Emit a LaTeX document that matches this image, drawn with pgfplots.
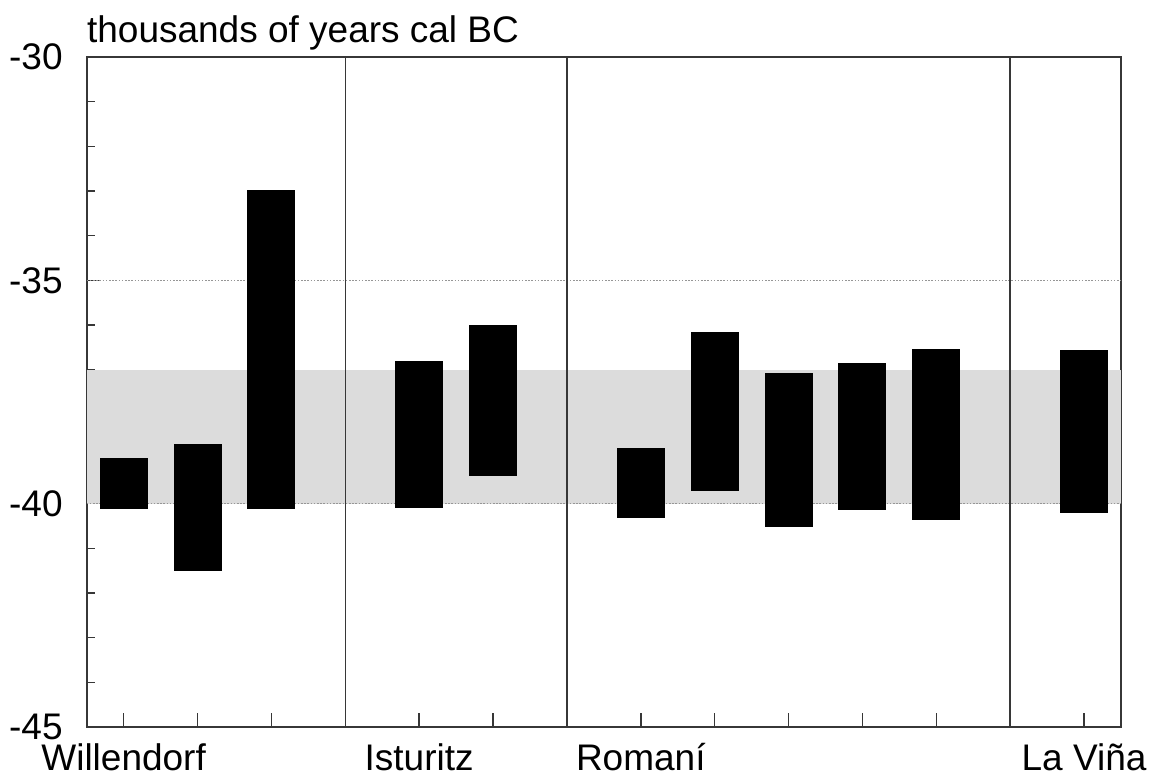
\documentclass[border=0pt]{standalone}
\usepackage{fontspec}
\setmainfont{Liberation Sans}
\usepackage{pgfplots}
\pgfplotsset{compat=1.18}

\definecolor{band}{RGB}{220,220,220}
\definecolor{frame}{RGB}{55,55,55}
\definecolor{dots}{RGB}{150,150,150}

\begin{document}
\begin{tikzpicture}
\begin{axis}[
  scale only axis,
  width=517.2pt, height=335pt,
  xmin=0.5, xmax=14.5,
  ymin=-45, ymax=-30,
  axis line style={frame, line width=1pt},
  xtick={1,2,3,5,6,8,9,10,11,12,14},
  xticklabels={Willendorf,,,Isturitz,,Romaní,,,,,La Viña},
  ytick={-45,-40,-35,-30},
  yticklabels={-45,-40,-35,-30},
  minor ytick={-44,-43,-42,-41,-39,-38,-37,-36,-34,-33,-32,-31},
  tick align=inside,
  xtick pos=bottom, ytick pos=left,
  major tick length=7pt, minor tick length=4pt,
  tick style={frame, line width=0.75pt},
  tick label style={font=\fontsize{18.5}{22}\selectfont},
  yticklabel style={xshift=-8.5pt},
  xticklabel style={text height=13.5pt, text depth=0pt, yshift=-4.8pt},
  clip=false,
]
% shaded band
\addplot[fill=band, draw=none] coordinates {(0.5,-37) (14.5,-37) (14.5,-40) (0.5,-40)} -- cycle;
% dotted reference lines
\addplot[dots, line width=0.6pt, dash pattern=on 0.8pt off 0.8pt] coordinates {(0.5,-35) (14.5,-35)};
\addplot[dots, line width=0.6pt, dash pattern=on 0.8pt off 0.8pt] coordinates {(0.5,-40) (14.5,-40)};
% site separators
\addplot[frame, line width=0.75pt] coordinates {(4,-45) (4,-30)};
\addplot[frame, line width=0.75pt] coordinates {(7,-45) (7,-30)};
\addplot[frame, line width=0.75pt] coordinates {(13,-45) (13,-30)};

% Willendorf
\addplot[fill=black, draw=none] coordinates {(0.675,-40.13) (1.325,-40.13) (1.325,-38.97) (0.675,-38.97)} -- cycle;
\addplot[fill=black, draw=none] coordinates {(1.675,-41.51) (2.325,-41.51) (2.325,-38.66) (1.675,-38.66)} -- cycle;
\addplot[fill=black, draw=none] coordinates {(2.675,-40.11) (3.325,-40.11) (3.325,-32.98) (2.675,-32.98)} -- cycle;
% Isturitz
\addplot[fill=black, draw=none] coordinates {(4.675,-40.10) (5.325,-40.10) (5.325,-36.81) (4.675,-36.81)} -- cycle;
\addplot[fill=black, draw=none] coordinates {(5.675,-39.38) (6.325,-39.38) (6.325,-36.00) (5.675,-36.00)} -- cycle;
% Romani
\addplot[fill=black, draw=none] coordinates {(7.675,-40.33) (8.325,-40.33) (8.325,-38.75) (7.675,-38.75)} -- cycle;
\addplot[fill=black, draw=none] coordinates {(8.675,-39.72) (9.325,-39.72) (9.325,-36.16) (8.675,-36.16)} -- cycle;
\addplot[fill=black, draw=none] coordinates {(9.675,-40.52) (10.325,-40.52) (10.325,-37.07) (9.675,-37.07)} -- cycle;
\addplot[fill=black, draw=none] coordinates {(10.675,-40.14) (11.325,-40.14) (11.325,-36.85) (10.675,-36.85)} -- cycle;
\addplot[fill=black, draw=none] coordinates {(11.675,-40.36) (12.325,-40.36) (12.325,-36.54) (11.675,-36.54)} -- cycle;
% La Vina
\addplot[fill=black, draw=none] coordinates {(13.675,-40.20) (14.325,-40.20) (14.325,-36.56) (13.675,-36.56)} -- cycle;

\node[anchor=base west, inner sep=0pt, yshift=7pt, font=\fontsize{18.5}{22}\selectfont] at (rel axis cs:0,1) {thousands of years cal BC};

\coordinate (bl) at (rel axis cs:0,0);
\coordinate (tr) at (rel axis cs:1,1);
\end{axis}
\pgfresetboundingbox
\path[use as bounding box] ([shift={(-43.35pt,-28.5pt)}]bl) rectangle ([shift={(21.5pt,28.5pt)}]tr);
\end{tikzpicture}
\end{document}
